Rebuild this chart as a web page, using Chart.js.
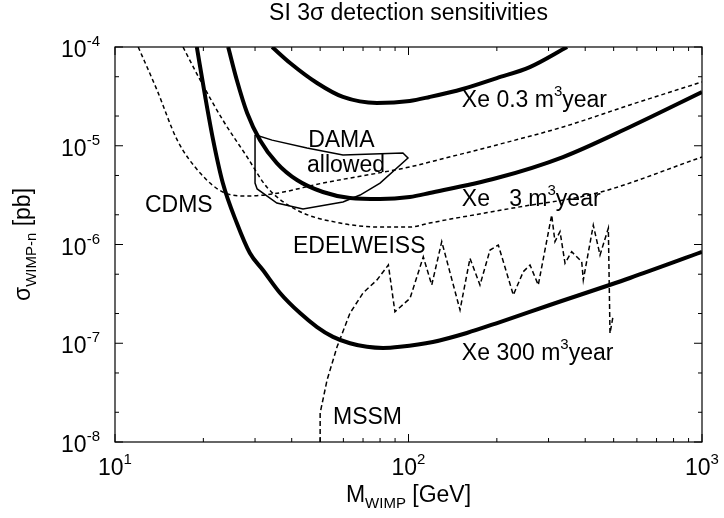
<!DOCTYPE html>
<html>
<head>
<meta charset="utf-8">
<script src="https://cdn.jsdelivr.net/npm/chart.js@4.4.1/dist/chart.umd.min.js"></script>
<style>
  html, body { margin: 0; padding: 0; background: #fff; }
</style>
</head>
<body>
<canvas id="chart" width="724" height="518"></canvas>
<script>
// Values (mass in GeV, cross section in pb)
const XE03_MASS = [34.3, 39.5, 48.8, 59.8, 78.1, 101, 118, 153, 200, 259, 347];
const XE03_SIGMA = [1e-4, 6.89e-5, 4.32e-5, 3.12e-5, 2.71e-5, 2.84e-5, 3.12e-5, 3.76e-5, 4.85e-5, 6.26e-5, 1e-4];

const XE3_MASS = [24.3, 26.0, 28.2, 31.2, 35.6, 41.7, 51.1, 63.2, 80.0, 101, 118, 200, 336, 568, 1000];
const XE3_SIGMA = [1e-4, 4.64e-5, 2.15e-5, 1.14e-5, 6.68e-6, 4.5e-6, 3.4e-6, 2.96e-6, 2.89e-6, 3.03e-6, 3.32e-6, 4.71e-6, 7.69e-6, 1.55e-5, 3.5e-5];

const XE300_MASS = [19.0, 20.3, 21.6, 23.3, 26.0, 28.8, 31.9, 36.5, 42.7, 48.8, 55.3, 63.2, 72.2, 81.9, 93.5, 121, 158, 205, 303, 568, 1000];
const XE300_SIGMA = [1e-4, 3.12e-5, 1.14e-5, 4.19e-6, 1.65e-6, 8.2e-7, 5.52e-7, 3.23e-7, 2.02e-7, 1.46e-7, 1.16e-7, 1.0e-7, 9.2e-8, 8.95e-8, 9.2e-8, 1.03e-7, 1.27e-7, 1.64e-7, 2.44e-7, 4.58e-7, 8.4e-7];

const CDMS_MASS = [12.0, 13.9, 16.3, 19.5, 23.3, 28.2, 34.5, 51.1, 101, 118, 200, 336, 568, 1000];
const CDMS_SIGMA = [1e-4, 3.67e-5, 1.14e-5, 5.3e-6, 3.4e-6, 3.1e-6, 3.25e-6, 4.19e-6, 6.1e-6, 6.84e-6, 1.02e-5, 1.55e-5, 2.59e-5, 4.43e-5];

const EDEL_MASS = [17.05, 19.5, 23.3, 28.2, 32.9, 41.7, 58.4, 81.9, 101, 118, 227, 439, 1000];
const EDEL_SIGMA = [1e-4, 4.64e-5, 1.82e-5, 7.69e-6, 3.82e-6, 2.23e-6, 1.65e-6, 1.5e-6, 1.5e-6, 1.65e-6, 2.34e-6, 3.32e-6, 7.69e-6];

const DAMA_MASS = [30.0, 34.3, 45.1, 59.8, 95.7, 99.6, 80.0, 68.4, 59.8, 43.7, 35.6, 30.5, 30.0, 30.0];
const DAMA_SIGMA = [1.29e-5, 1.14e-5, 9.5e-6, 8.05e-6, 8.45e-6, 7.52e-6, 4.19e-6, 3.17e-6, 2.69e-6, 2.29e-6, 2.63e-6, 3.65e-6, 4.19e-6, 1.29e-5];

const MSSM_MASS = [50.0, 50.0, 52.8, 57.1, 63.2, 70.0, 78.1, 85.4, 89.9, 101.2, 112.3, 120, 129.8, 149.8, 162, 175.2, 189.6, 202.3,
  227.6, 246.1, 259.4, 276.8, 307.5, 315.5, 328.3, 341.4, 359.7, 389.2, 394.1, 426.2, 449.3, 479.6, 485.9, 498.6];
const MSSM_SIGMA = [1e-8, 1.97e-8, 4.25e-8, 9.2e-8, 2.02e-7, 3.23e-7, 4.38e-7, 6.2e-7, 2.08e-7, 2.85e-7, 7.5e-7, 3.89e-7, 1.07e-6, 2.17e-7,
  7.24e-7, 3.89e-7, 8.8e-7, 9.88e-7, 3.08e-7, 5.31e-7, 6.2e-7, 3.89e-7, 1.99e-6, 1.07e-6, 1.35e-6, 6.46e-7, 8.45e-7, 6.7e-7, 4.38e-7,
  1.57e-6, 7.83e-7, 1.46e-6, 1.26e-7, 1.93e-7];

// Axes
const X_MAJOR = [10, 100, 1000];
const X_MINOR = [20, 30, 40, 50, 60, 70, 80, 90, 200, 300, 400, 500, 600, 700, 800, 900];
const X_TICK_LABELS = ["10^{1}", "10^{2}", "10^{3}"];
const Y_MAJOR = [1e-8, 1e-7, 1e-6, 1e-5, 1e-4];
const Y_MINOR = [2e-8, 5e-8, 2e-7, 5e-7, 2e-6, 5e-6, 2e-5, 5e-5];
const Y_TICK_LABELS = ["10^{-8}", "10^{-7}", "10^{-6}", "10^{-5}", "10^{-4}"];

const TITLE = "SI 3σ detection sensitivities";
const X_TITLE = "M_{WIMP} [GeV]";
const Y_TITLE = "σ_{WIMP-n} [pb]";

// In-plot annotations: text, left edge (mass), baseline (sigma)
const LABEL_TEXT = ["Xe 0.3 m^{3}year", "Xe   3 m^{3}year", "Xe 300 m^{3}year", "DAMA", "allowed", "CDMS", "EDELWEISS", "MSSM"];
const LABEL_MASS = [152, 152, 152, 45.5, 45.1, 12.65, 40.4, 55.3];
const LABEL_SIGMA = [2.47e-5, 2.45e-6, 6.76e-8, 9.7e-6, 5.46e-6, 2.13e-6, 8.2e-7, 1.52e-8];

const FONT = '"Liberation Sans", Arial, Helvetica, sans-serif';
const MAIN_SIZE = 23;
const SCRIPT_SIZE = 15;

function toPoints(xs, ys) {
  return xs.map((x, i) => ({ x: x, y: ys[i] }));
}

function curve(xs, ys, opts) {
  return Object.assign({
    data: toPoints(xs, ys),
    borderColor: "#000",
    backgroundColor: "#000",
    pointRadius: 0,
    fill: false,
    tension: 0,
  }, opts);
}

// "a^{b}c_{d}" -> parts
function parseRich(str) {
  const parts = [];
  const re = /([\^_])\{([^}]*)\}/g;
  let last = 0, m;
  while ((m = re.exec(str)) !== null) {
    if (m.index > last) parts.push({ text: str.slice(last, m.index), size: MAIN_SIZE, dy: 0 });
    parts.push({ text: m[2], size: SCRIPT_SIZE, dy: m[1] === "^" ? -11 : 6 });
    last = re.lastIndex;
  }
  if (last < str.length) parts.push({ text: str.slice(last), size: MAIN_SIZE, dy: 0 });
  return parts;
}

function drawRich(ctx, str, x, y, align) {
  const parts = parseRich(str);
  let total = 0;
  parts.forEach((p) => {
    ctx.font = p.size + "px " + FONT;
    p.w = ctx.measureText(p.text).width;
    total += p.w;
  });
  let cx = x;
  if (align === "right") cx = x - total;
  else if (align === "center") cx = x - total / 2;
  ctx.textAlign = "left";
  ctx.textBaseline = "alphabetic";
  parts.forEach((p) => {
    ctx.font = p.size + "px " + FONT;
    ctx.fillText(p.text, cx, y + p.dy);
    cx += p.w;
  });
}

const framePlugin = {
  id: "frame",
  afterDraw(chart) {
    const ctx = chart.ctx;
    const area = chart.chartArea;
    const xs = chart.scales.x;
    const ys = chart.scales.y;
    ctx.save();
    ctx.strokeStyle = "#000";
    ctx.fillStyle = "#000";
    ctx.lineWidth = 1.2;
    ctx.strokeRect(area.left, area.top, area.right - area.left, area.bottom - area.top);

    const tick = (v, len, horizontal) => {
      ctx.beginPath();
      if (horizontal) {
        const px = xs.getPixelForValue(v);
        ctx.moveTo(px, area.bottom); ctx.lineTo(px, area.bottom - len);
        ctx.moveTo(px, area.top); ctx.lineTo(px, area.top + len);
      } else {
        const py = ys.getPixelForValue(v);
        ctx.moveTo(area.left, py); ctx.lineTo(area.left + len, py);
        ctx.moveTo(area.right, py); ctx.lineTo(area.right - len, py);
      }
      ctx.stroke();
    };
    ctx.lineWidth = 1;
    X_MAJOR.forEach((v) => tick(v, 8, true));
    X_MINOR.forEach((v) => tick(v, 4, true));
    Y_MAJOR.forEach((v) => tick(v, 8, false));
    Y_MINOR.forEach((v) => tick(v, 4, false));

    // tick labels
    X_MAJOR.forEach((v, i) => {
      drawRich(ctx, X_TICK_LABELS[i], xs.getPixelForValue(v), area.bottom + 33, "center");
    });
    Y_MAJOR.forEach((v, i) => {
      drawRich(ctx, Y_TICK_LABELS[i], area.left - 15, ys.getPixelForValue(v) + 10, "right");
    });

    // annotations
    LABEL_TEXT.forEach((t, i) => {
      drawRich(ctx, t, xs.getPixelForValue(LABEL_MASS[i]), ys.getPixelForValue(LABEL_SIGMA[i]), "left");
    });

    // titles
    drawRich(ctx, TITLE, (area.left + area.right) / 2, 20, "center");
    drawRich(ctx, X_TITLE, (area.left + area.right) / 2, 502, "center");
    ctx.translate(30, (area.top + area.bottom) / 2);
    ctx.rotate(-Math.PI / 2);
    drawRich(ctx, Y_TITLE, 0, 0, "center");
    ctx.restore();
  },
};

const dashed = [4, 3];

new Chart(document.getElementById("chart"), {
  type: "line",
  data: {
    datasets: [
      curve(XE03_MASS, XE03_SIGMA, { borderWidth: 4, cubicInterpolationMode: "monotone" }),
      curve(XE3_MASS, XE3_SIGMA, { borderWidth: 4, cubicInterpolationMode: "monotone" }),
      curve(XE300_MASS, XE300_SIGMA, { borderWidth: 4, cubicInterpolationMode: "monotone" }),
      curve(CDMS_MASS, CDMS_SIGMA, { borderWidth: 1.5, borderDash: dashed, cubicInterpolationMode: "monotone" }),
      curve(EDEL_MASS, EDEL_SIGMA, { borderWidth: 1.5, borderDash: dashed, cubicInterpolationMode: "monotone" }),
      curve(DAMA_MASS, DAMA_SIGMA, { borderWidth: 1.5 }),
      curve(MSSM_MASS, MSSM_SIGMA, { borderWidth: 1.5, borderDash: [5, 3] }),
    ],
  },
  options: {
    responsive: false,
    animation: false,
    devicePixelRatio: 1,
    layout: { padding: { left: 115, top: 47, right: 22, bottom: 76 } },
    plugins: {
      legend: { display: false },
      tooltip: { enabled: false },
    },
    scales: {
      x: { type: "logarithmic", min: 10, max: 1000, display: false },
      y: { type: "logarithmic", min: 1e-8, max: 1e-4, display: false },
    },
  },
  plugins: [framePlugin],
});
</script>
</body>
</html>
